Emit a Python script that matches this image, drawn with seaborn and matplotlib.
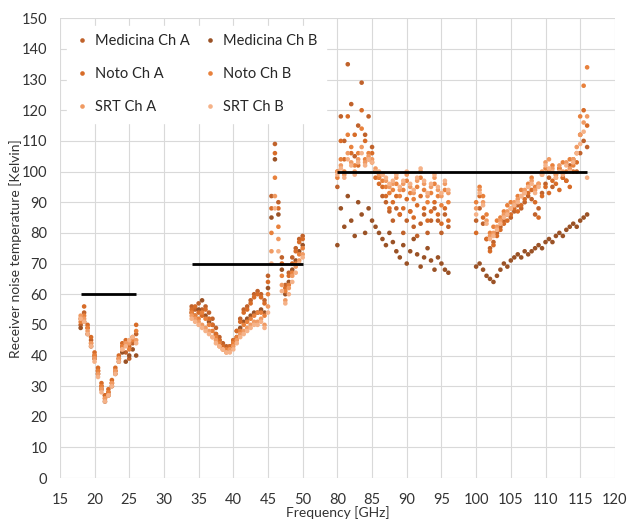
import numpy as np
import pandas as pd
import matplotlib
matplotlib.use("Agg")
import matplotlib.pyplot as plt
import seaborn as sns

# frequency grids of the four measured bands [GHz]
f_band1 = [18, 18.5, 19, 19.5, 20, 20.5, 21, 21.5, 22, 22.5, 23, 23.5, 24, 24.5, 25, 25.5, 26]
f_band2 = [34, 34.5, 35, 35.5, 36, 36.5, 37, 37.5, 38, 38.5, 39, 39.5, 40, 40.5, 41, 41.5, 42,
           42.5, 43, 43.5, 44, 44.5, 45, 45.5, 46, 46.5, 47, 47.5, 48, 48.5, 49, 49.5, 50]
f_band3 = [80, 80.5, 81, 81.5, 82, 82.5, 83, 83.5, 84, 84.5, 85, 85.5, 86, 86.5, 87, 87.5, 88,
           88.5, 89, 89.5, 90, 90.5, 91, 91.5, 92, 92.5, 93, 93.5, 94, 94.5, 95, 95.5, 96]
f_band4 = [100, 100.5, 101, 101.5, 102, 102.5, 103, 103.5, 104, 104.5, 105, 105.5, 106, 106.5, 107,
           107.5, 108, 108.5, 109, 109.5, 110, 110.5, 111, 111.5, 112, 112.5, 113, 113.5, 114,
           114.5, 115, 115.5, 116]

# receiver noise temperature [K], per series, band by band
med_a = [50, 54, 49, 45, 40, 35, 30, 27, 28, 31, 35, 39, 43, 41, 39, 44, 47] + \
        [56, 55, 57, 55, 56, 54, 52, 49, 46, 44, 43, 43, 45, 48, 52, 55, 56, 58, 60, 61, 60, 58,
         66, 92, 109, 90, 72, 63, 67, 72, 75, 78, 79] + \
        [95, 118, 110, 135, 122, 105, 115, 129, 112, 118, 108, 100, 98, 92, 90, 87, 84, 88, 86,
         80, 84, 87, 82, 79, 83, 86, 80, 84, 88, 84, 80, 86, 82] + \
        [84, 88, 83, 78, 75, 77, 80, 82, 84, 86, 85, 87, 89, 88, 90, 92, 91, 86, 88, 93, 96, 98,
         95, 99, 101, 98, 97, 102, 104, 100, 106, 110, 108]
med_b = [49, 51, 47, 43, 39, 34, 29, 25, 27, 30, 34, 38, 41, 38, 40, 42, 40] + \
        [54, 53, 55, 58, 53, 51, 50, 47, 45, 43, 42, 42, 44, 46, 49, 51, 52, 53, 54, 54, 55, 54,
         62, 85, 104, 86, 68, 60, 64, 68, 71, 74, 76] + \
        [76, 88, 82, 92, 84, 79, 90, 86, 80, 88, 84, 82, 80, 78, 76, 80, 77, 74, 72, 76, 70, 74,
         78, 73, 69, 72, 75, 71, 68, 72, 70, 68, 67] + \
        [69, 70, 68, 66, 65, 64, 66, 68, 70, 69, 71, 72, 73, 72, 74, 73, 74, 75, 76, 75, 77, 78,
         77, 79, 80, 79, 81, 82, 83, 82, 84, 85, 86]
noto_a = [52, 56, 50, 46, 41, 36, 31, 27, 29, 32, 36, 40, 44, 45, 43, 46, 50] + \
         [55, 56, 54, 53, 55, 52, 50, 47, 45, 43, 42, 43, 45, 48, 51, 54, 55, 57, 59, 60, 59, 57,
          64, 88, 106, 88, 70, 62, 66, 70, 74, 77, 78] + \
         [100, 110, 104, 118, 106, 112, 102, 120, 110, 104, 106, 98, 96, 95, 92, 88, 90, 92, 86,
          88, 91, 87, 85, 89, 92, 88, 84, 87, 90, 86, 83, 88, 84] + \
         [80, 92, 85, 78, 74, 76, 79, 81, 83, 84, 86, 88, 87, 89, 91, 93, 94, 90, 85, 92, 95, 93,
          97, 96, 94, 98, 97, 95, 100, 103, 112, 120, 115]
noto_b = [51, 53, 49, 44, 40, 35, 30, 26, 28, 31, 35, 39, 43, 44, 42, 45, 48] + \
         [54, 53, 52, 54, 52, 50, 48, 46, 44, 42, 42, 42, 44, 46, 48, 50, 51, 52, 53, 54, 54, 53,
          60, 80, 98, 82, 66, 61, 63, 67, 70, 73, 75] + \
         [98, 104, 100, 112, 108, 102, 106, 114, 104, 106, 103, 100, 98, 97, 95, 93, 94, 96, 92,
          94, 97, 93, 91, 95, 98, 94, 90, 93, 96, 92, 89, 94, 90] + \
         [90, 95, 92, 86, 80, 82, 84, 85, 87, 89, 90, 89, 92, 94, 93, 96, 98, 95, 96, 99, 101,
          100, 102, 98, 101, 103, 100, 104, 102, 106, 118, 128, 134]
srt_a = [53, 52, 48, 44, 39, 34, 29, 26, 27, 31, 35, 39, 42, 44, 44, 46, 45] + \
        [53, 52, 51, 50, 49, 48, 46, 45, 43, 42, 41, 42, 43, 45, 47, 48, 49, 50, 51, 51, 52, 50,
         56, 74, 92, 78, 63, 58, 62, 66, 69, 71, 73] + \
        [100, 102, 99, 106, 103, 100, 104, 108, 103, 105, 104, 101, 99, 99, 97, 95, 96, 98, 94,
         96, 99, 95, 93, 97, 100, 96, 92, 95, 98, 94, 92, 96, 93] + \
        [88, 94, 90, 84, 79, 80, 82, 84, 86, 87, 88, 90, 91, 92, 94, 95, 97, 94, 96, 100, 103,
         104, 101, 99, 102, 100, 103, 101, 104, 108, 112, 116, 118]
srt_b = [52, 51, 47, 43, 38, 33, 28, 25, 27, 30, 34, 38, 42, 43, 45, 46, 44] + \
        [52, 51, 50, 49, 48, 47, 46, 44, 43, 42, 41, 41, 42, 44, 46, 47, 48, 49, 50, 50, 51, 49,
         54, 70, 88, 74, 61, 57, 60, 64, 67, 70, 72] + \
        [99, 101, 98, 104, 102, 99, 103, 106, 102, 104, 103, 100, 100, 99, 98, 96, 97, 99, 95,
         97, 100, 96, 94, 98, 101, 97, 93, 96, 99, 95, 93, 97, 94] + \
        [86, 93, 89, 83, 78, 79, 81, 83, 85, 86, 88, 89, 90, 92, 93, 95, 96, 93, 95, 99, 102,
         101, 100, 98, 100, 99, 102, 100, 103, 106, 109, 113, 98]

series_names = ["Medicina Ch A", "Medicina Ch B", "Noto Ch A", "Noto Ch B", "SRT Ch A", "SRT Ch B"]
series_vals = [med_a, med_b, noto_a, noto_b, srt_a, srt_b]
colors = ["#C0622B", "#9A5226", "#D76C28", "#E8813C", "#F09A62", "#F5B288"]

# requirement lines
spec_start = [18, 34, 80]
spec_end = [26, 50, 116]
spec_value = [60, 70, 100]

tick_labels = [15, 20, 25, 30, 35, 40, 45, 50, 80, 85, 90, 95, 100, 105, 110, 115, 120]

freqs = f_band1 + f_band2 + f_band3 + f_band4


def axis_pos(f):
    # broken axis: 50 GHz is followed directly by 80 GHz
    f = np.asarray(f, dtype=float)
    return np.where(f > 50, f - 25, f)


rows = []
for name, vals in zip(series_names, series_vals):
    for f, v in zip(freqs, vals):
        rows.append((name, f, v))
df = pd.DataFrame(rows, columns=["series", "freq", "temp"])
df["pos"] = axis_pos(df["freq"])

sns.set_style("white")
plt.rcParams["font.family"] = ["Lato", "DejaVu Sans"]

fig = plt.figure(figsize=(6.3, 5.22), dpi=100)
ax = fig.add_axes([0.095, 0.084, 0.881, 0.881])

sns.scatterplot(data=df, x="pos", y="temp", hue="series", hue_order=series_names,
                palette=colors, s=11, linewidth=0, ax=ax, zorder=3)

ax.hlines(spec_value, axis_pos(spec_start), axis_pos(spec_end), colors="black",
          linewidth=2, zorder=4)

ax.set_xlim(15, 95)
ax.set_ylim(0, 150)
ax.set_xticks(axis_pos(tick_labels))
ax.set_xticklabels([str(t) for t in tick_labels])
ax.set_yticks(range(0, 151, 10))
ax.grid(True, color="#d9d9d9", linewidth=0.8)
ax.set_axisbelow(True)
for sp in ax.spines.values():
    sp.set_visible(False)
ax.tick_params(axis="x", length=0, labelsize=10.5, labelcolor="#333333", pad=11)
ax.tick_params(axis="y", length=0, labelsize=10.5, labelcolor="#333333", pad=9)

ax.set_xlabel("Frequency [GHz]", fontsize=10, color="#333333", labelpad=-1)
ax.set_ylabel("Receiver noise temperature [Kelvin]", fontsize=10, color="#333333", labelpad=0)

# legend filled row by row like the original
handles, labels = ax.get_legend_handles_labels()
order = [0, 2, 4, 1, 3, 5]
leg = ax.legend([handles[i] for i in order], [labels[i] for i in order],
                loc="upper left", ncol=2, bbox_to_anchor=(0.0, 1.0), frameon=True,
                fontsize=10.5, markerscale=1.0, handlelength=0.8, handletextpad=0.5,
                columnspacing=1.0, labelspacing=1.3, borderpad=0.6)
leg.get_frame().set_facecolor("white")
leg.get_frame().set_edgecolor("white")
leg.get_frame().set_alpha(1.0)
leg.set_zorder(5)

fig.savefig("out.png", dpi=100)
